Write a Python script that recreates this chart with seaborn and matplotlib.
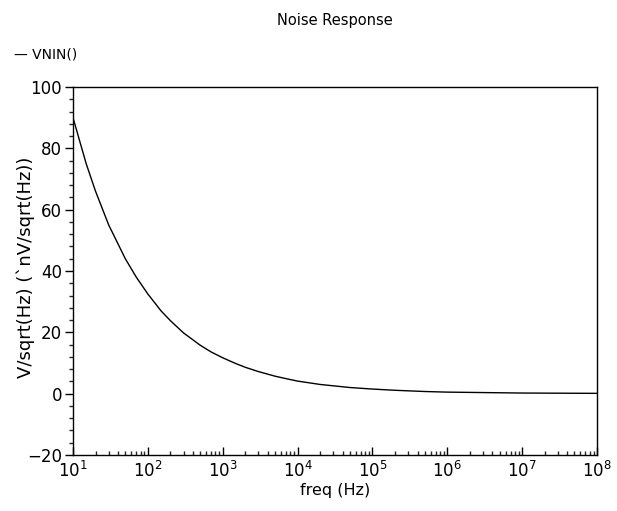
import matplotlib
matplotlib.use("Agg")
import matplotlib.pyplot as plt
import seaborn as sns
import pandas as pd
from matplotlib.ticker import FixedLocator, NullFormatter

freq_hz = [10, 15, 20, 30, 50, 70, 100, 150, 200, 300, 500, 700,
           1e3, 1.5e3, 2e3, 3e3, 5e3, 7e3, 1e4, 2e4, 5e4,
           1e5, 2e5, 5e5, 1e6, 1e7, 1e8]
vnin_nv = [90, 75, 66, 55, 44, 38, 32.5, 27, 23.8, 19.8, 15.8, 13.6,
           11.7, 9.8, 8.6, 7.2, 5.7, 4.9, 4.1, 3.0, 2.0,
           1.5, 1.1, 0.7, 0.5, 0.2, 0.1]
series_name = "VNIN()"
x_major = [1e1, 1e2, 1e3, 1e4, 1e5, 1e6, 1e7, 1e8]

sns.set_theme(style="white")
plt.rcParams['font.family'] = ['DejaVu Sans']
plt.rcParams['mathtext.default'] = 'regular'
plt.rcParams['text.color'] = 'black'
plt.rcParams['axes.labelcolor'] = 'black'

df = pd.DataFrame({"freq": freq_hz, "v": vnin_nv, "series": series_name})

fig = plt.figure(figsize=(6.17, 5.11), dpi=100)
ax = fig.add_axes([0.1183, 0.1096, 0.8493, 0.7202])
sns.lineplot(data=df, x="freq", y="v", hue="series", palette=["black"],
             linewidth=1.0, ax=ax, legend=False)
ax.set_xscale("log")
ax.set_xlim(10, 1e8)
ax.set_ylim(-20, 100)
ax.yaxis.set_major_locator(FixedLocator([-20, 0, 20, 40, 60, 80, 100]))
ax.yaxis.set_minor_locator(FixedLocator(list(range(-20, 101, 4))))
ax.xaxis.set_major_locator(FixedLocator(x_major))
ax.xaxis.set_minor_locator(FixedLocator([m * d for d in x_major[:-1] for m in range(2, 10)]))
ax.xaxis.set_minor_formatter(NullFormatter())

for s in ax.spines.values():
    s.set_color("black")
    s.set_linewidth(1.0)

ax.tick_params(axis="y", which="major", direction="out", length=6, width=1,
               left=True, labelsize=12, colors="black", pad=2)
ax.tick_params(axis="y", which="minor", direction="out", length=3, width=1, left=True)
ax.tick_params(axis="x", which="major", direction="in", length=6, width=1,
               bottom=True, labelsize=12, colors="black", pad=4)
ax.tick_params(axis="x", which="minor", direction="in", length=3, width=1, bottom=True)

ax.set_xlabel("freq (Hz)", fontsize=11.5, labelpad=2, color="black")
ax.set_ylabel("V/sqrt(Hz) (`nV/sqrt(Hz))", fontsize=13, color="black")
ax.yaxis.set_label_coords(-0.072, 0.51)

fig.suptitle("Noise Response", x=0.543, y=0.975, fontsize=10.5, color="black")
fig.text(0.022, 0.893, "\u2014 " + series_name, fontsize=10, va="center",
         ha="left", color="black")

fig.savefig("out.png", dpi=100)
